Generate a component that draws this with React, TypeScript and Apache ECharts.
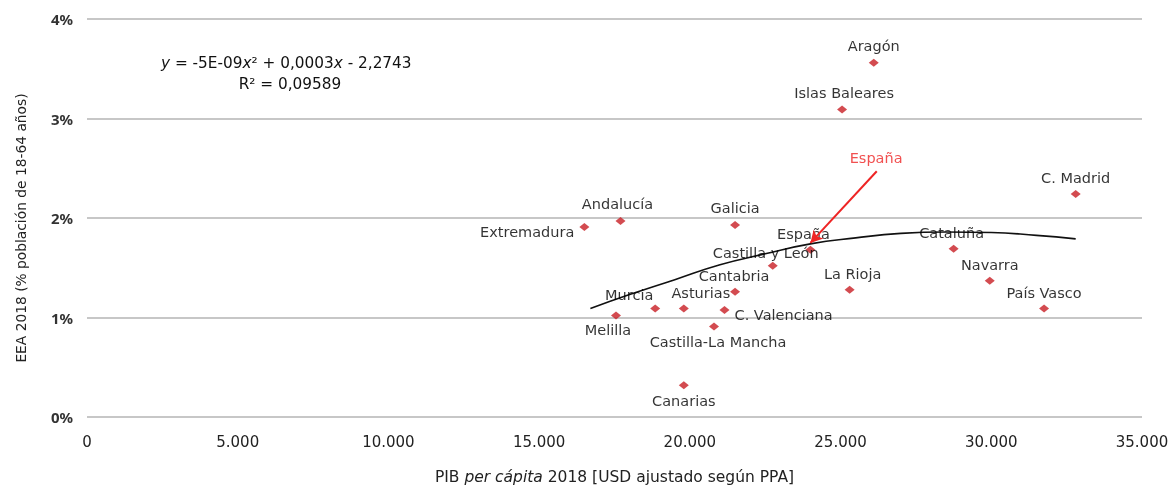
import React, { useEffect, useRef } from "react";
import * as echarts from "echarts";

const regions = ["Aragón", "Islas Baleares", "C. Madrid", "Extremadura", "Andalucía", "Galicia", "España", "Castilla y León", "Cantabria", "La Rioja", "Murcia", "Asturias", "C. Valenciana", "Melilla", "Castilla-La Mancha", "Canarias", "Cataluña", "Navarra", "País Vasco"];
const pib = [26100, 25050, 32800, 16500, 17700, 21500, 24000, 22750, 21500, 25300, 18850, 19800, 21150, 17550, 20800, 19800, 28750, 29950, 31750];
const eea = [3.56, 3.09, 2.24, 1.91, 1.97, 1.93, 1.68, 1.52, 1.26, 1.28, 1.09, 1.09, 1.075, 1.02, 0.91, 0.32, 1.69, 1.37, 1.09];

// label placement for each point: [position, dx, dy]
const labelPlace: [string, number, number][] = [
  ["top", 0, 0], ["top", 2, 0], ["top", 0, 0], ["left", 0, 5], ["top", -3, 0], ["top", 0, 0],
  ["top", -7, 1], ["top", -7, 4], ["top", -1, 1], ["top", 3, 1], ["top", -26, 3], ["top", 17, 1],
  ["right", 0, 5], ["bottom", -8, -2], ["bottom", 4, -1], ["bottom", 0, -1], ["top", -2, 1], ["top", 0, 1], ["top", 0, 1],
];

const trendX = [16700, 18000, 19500, 21000, 22500, 24000, 25500, 27000, 28500, 30000, 31500, 32800];
const trendY = [1.09, 1.23, 1.38, 1.53, 1.64, 1.74, 1.80, 1.845, 1.86, 1.855, 1.825, 1.79];

const arrowFrom: [number, number] = [26200, 2.47];
const arrowTo: [number, number] = [24000, 1.75];
const annotationPos: [number, number] = [26180, 2.6];

const xTicks = [0, 5000, 10000, 15000, 20000, 25000, 30000, 35000];
const yTicks = [0, 1, 2, 3, 4];

const FONT = "DejaVu Sans";

export default function App() {
  const ref = useRef<HTMLDivElement>(null);
  useEffect(() => {
    if (!ref.current) return;
    const chart = echarts.init(ref.current, null, { renderer: "svg" });
    const points = regions.map((name, i) => ({
      value: [pib[i], eea[i]],
      name,
      label: {
        position: labelPlace[i][0],
        offset: [labelPlace[i][1], labelPlace[i][2]],
      },
    }));
    chart.setOption({
      animation: false,
      textStyle: { fontFamily: FONT },
      grid: { left: 87, right: 28, top: 19, bottom: 72, containLabel: false, outerBoundsMode: "none" },
      xAxis: {
        type: "value",
        min: xTicks[0],
        max: xTicks[xTicks.length - 1],
        interval: 5000,
        splitLine: { show: false },
        axisLine: { show: false },
        axisTick: { show: false },
        axisLabel: {
          margin: 17,
          color: "#222",
          fontSize: 15,
          fontFamily: FONT,
          formatter: (v: number) => v === 0 ? "0" : v.toLocaleString("de-DE"),
        },
        name: "{a|PIB }{i|per cápita}{a| 2018 [USD ajustado según PPA]}",
        nameLocation: "middle",
        nameGap: 52,
        nameTextStyle: {
          rich: {
            a: { fontSize: 15.5, color: "#222", fontFamily: FONT },
            i: { fontSize: 15.5, color: "#222", fontStyle: "italic", fontFamily: FONT },
          },
        },
      },
      yAxis: {
        type: "value",
        min: yTicks[0],
        max: yTicks[yTicks.length - 1],
        interval: 1,
        axisLine: { show: false },
        axisTick: { show: false },
        splitLine: { lineStyle: { color: "#b4b4b4", width: 1.5 } },
        axisLabel: {
          margin: 14,
          color: "#333",
          fontSize: 15,
          fontWeight: "bold",
          fontFamily: "Noto Sans",
          formatter: (v: number) => v + "%",
        },
        name: "EEA 2018 (% población de 18-64 años)",
        nameLocation: "middle",
        nameGap: 59,
        nameTextStyle: { fontSize: 13.8, color: "#222", fontFamily: FONT, padding: [0, 20, 0, 0] },
      },
      graphic: [
        {
          type: "text",
          left: 161,
          top: 55,
          style: {
            text: "{i|y} = -5E-09{i|x}² + 0,0003{i|x} - 2,2743",
            fontSize: 15.3,
            fontFamily: FONT,
            fill: "#111",
            rich: { i: { fontStyle: "italic", fontSize: 15.3, fontFamily: FONT, fill: "#111" } },
          },
        },
        {
          type: "text",
          x: 290,
          y: 76,
          style: { text: "R² = 0,09589", fontSize: 15.3, fontFamily: FONT, fill: "#111", align: "center", verticalAlign: "top" },
        },
      ],
      series: [
        {
          type: "line",
          data: trendX.map((x, i) => [x, trendY[i]]),
          smooth: true,
          showSymbol: false,
          lineStyle: { color: "#111", width: 1.6 },
          z: 3,
          silent: true,
        },
        {
          type: "scatter",
          data: points,
          symbol: "diamond",
          symbolSize: [10, 8],
          itemStyle: { color: "#c81e24" },
          z: 4,
          label: {
            show: true,
            formatter: "{b}",
            color: "#000",
            fontSize: 14.5,
            fontFamily: FONT,
            distance: 5,
          },
          markLine: {
            silent: true,
            symbol: ["none", "arrow"],
            symbolSize: [10, 12],
            lineStyle: { color: "#ee2424", width: 2, type: "solid" },
            label: { show: false },
            data: [[{ coord: arrowFrom }, { coord: arrowTo }]],
          },
        },
        {
          type: "scatter",
          data: [{ value: annotationPos, name: "España" }],
          symbolSize: 0,
          label: {
            show: true,
            position: "inside",
            formatter: "{b}",
            color: "#ee2424",
            fontSize: 14.5,
            fontFamily: FONT,
          },
          z: 5,
        },
      ],
    });
    return () => chart.dispose();
  }, []);
  return <div ref={ref} style={{ position: "fixed", left: 0, top: 0, width: 1170, height: 489 }} />;
}
